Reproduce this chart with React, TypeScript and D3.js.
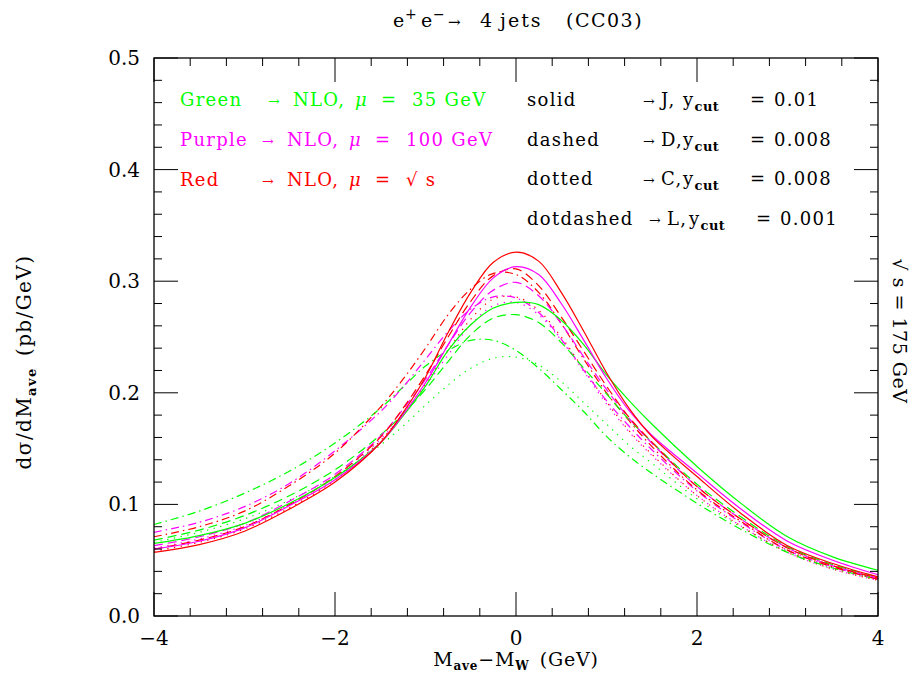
import React from "react";
import * as d3 from "d3";

// ---------- data ----------
const xGrid = [-4, -3.5, -3, -2.5, -2, -1.5, -1.25, -1, -0.75, -0.5, -0.25, 0, 0.25, 0.5, 0.75, 1, 1.25, 1.5, 2, 2.5, 3, 3.5, 4];

// solid: J, ycut = 0.01
const greenSolid = [0.065, 0.072, 0.083, 0.101, 0.124, 0.155, 0.179, 0.206, 0.238, 0.261, 0.276, 0.281, 0.279, 0.265, 0.243, 0.216, 0.193, 0.172, 0.134, 0.100, 0.071, 0.053, 0.041];
const purpleSolid = [0.060, 0.067, 0.079, 0.099, 0.122, 0.155, 0.180, 0.209, 0.243, 0.277, 0.303, 0.313, 0.306, 0.280, 0.247, 0.213, 0.184, 0.162, 0.128, 0.095, 0.067, 0.050, 0.037];
const redSolid = [0.057, 0.064, 0.076, 0.096, 0.120, 0.155, 0.182, 0.214, 0.254, 0.290, 0.317, 0.326, 0.318, 0.290, 0.255, 0.218, 0.186, 0.161, 0.125, 0.091, 0.063, 0.047, 0.035];

// dashed: D, ycut = 0.008
const greenDashed = [0.068, 0.077, 0.090, 0.108, 0.131, 0.162, 0.181, 0.203, 0.228, 0.252, 0.267, 0.270, 0.263, 0.245, 0.222, 0.199, 0.176, 0.156, 0.118, 0.088, 0.062, 0.046, 0.035];
const purpleDashed = [0.063, 0.071, 0.083, 0.103, 0.127, 0.161, 0.185, 0.212, 0.243, 0.272, 0.292, 0.299, 0.287, 0.262, 0.232, 0.203, 0.177, 0.155, 0.116, 0.086, 0.061, 0.045, 0.034];
const redDashed = [0.060, 0.068, 0.080, 0.100, 0.125, 0.160, 0.186, 0.216, 0.250, 0.282, 0.305, 0.311, 0.296, 0.268, 0.237, 0.206, 0.178, 0.156, 0.116, 0.086, 0.061, 0.045, 0.034];

// dotted: C, ycut = 0.008
const greenDotted = [0.066, 0.075, 0.087, 0.104, 0.125, 0.153, 0.170, 0.189, 0.207, 0.222, 0.231, 0.232, 0.225, 0.210, 0.191, 0.172, 0.153, 0.137, 0.105, 0.079, 0.058, 0.043, 0.033];
const purpleDotted = [0.061, 0.069, 0.081, 0.100, 0.124, 0.158, 0.181, 0.206, 0.234, 0.261, 0.278, 0.281, 0.270, 0.247, 0.219, 0.190, 0.165, 0.144, 0.108, 0.080, 0.057, 0.042, 0.032];
const redDotted = [0.058, 0.066, 0.078, 0.097, 0.122, 0.157, 0.181, 0.208, 0.238, 0.266, 0.284, 0.286, 0.274, 0.250, 0.221, 0.192, 0.166, 0.145, 0.108, 0.080, 0.057, 0.042, 0.032];

// dotdashed: L, ycut = 0.001
const greenDotDashed = [0.082, 0.094, 0.110, 0.130, 0.155, 0.186, 0.205, 0.224, 0.238, 0.247, 0.247, 0.238, 0.222, 0.203, 0.183, 0.161, 0.143, 0.128, 0.101, 0.077, 0.057, 0.043, 0.033];
const purpleDotDashed = [0.075, 0.084, 0.098, 0.119, 0.148, 0.183, 0.205, 0.230, 0.255, 0.275, 0.286, 0.285, 0.272, 0.248, 0.220, 0.193, 0.170, 0.149, 0.112, 0.083, 0.059, 0.044, 0.033];
const redDotDashed = [0.071, 0.080, 0.094, 0.117, 0.146, 0.187, 0.212, 0.240, 0.270, 0.293, 0.307, 0.306, 0.290, 0.262, 0.230, 0.200, 0.175, 0.152, 0.113, 0.084, 0.059, 0.044, 0.033];

const yTickLabels = ["0.0", "0.1", "0.2", "0.3", "0.4", "0.5"];
const xTickLabels = ["\u22124", "\u22122", "0", "2", "4"];

const GREEN = "#00ff00";
const PURPLE = "#ff00ff";
const RED = "#ff0000";

const series = [
  { values: greenDotted, color: GREEN, style: "dotted" },
  { values: purpleDotted, color: PURPLE, style: "dotted" },
  { values: redDotted, color: RED, style: "dotted" },
  { values: greenDotDashed, color: GREEN, style: "dotdashed" },
  { values: purpleDotDashed, color: PURPLE, style: "dotdashed" },
  { values: redDotDashed, color: RED, style: "dotdashed" },
  { values: greenDashed, color: GREEN, style: "dashed" },
  { values: purpleDashed, color: PURPLE, style: "dashed" },
  { values: redDashed, color: RED, style: "dashed" },
  { values: greenSolid, color: GREEN, style: "solid" },
  { values: purpleSolid, color: PURPLE, style: "solid" },
  { values: redSolid, color: RED, style: "solid" },
];

const dashFor: Record<string, string | undefined> = {
  solid: undefined,
  dashed: "9,5",
  dotted: "1.3,5.5",
  dotdashed: "8,4,1.5,4",
};

// ---------- layout ----------
const W = 912;
const H = 675;
const L = 154, R = 878, T = 58, B = 616;
const FONT = "'DejaVu Serif', serif";

export default function App() {
  const x = d3.scaleLinear().domain([-4, 4]).range([L, R]);
  const y = d3.scaleLinear().domain([0, 0.5]).range([B, T]);
  const line = d3
    .line<number>()
    .x((_, i) => x(xGrid[i]))
    .y((d) => y(d))
    .curve(d3.curveCatmullRom.alpha(0.5));

  const yMinor = d3.range(0, 0.5001, 0.02);
  const xMinor = d3.range(-4, 4.001, 0.4);
  const isMajorY = (v: number) => Math.abs(v * 10 - Math.round(v * 10)) < 1e-6;
  const isMajorX = (v: number) => Math.abs(v / 2 - Math.round(v / 2)) < 1e-6;

  const tickEls: React.ReactNode[] = [];
  yMinor.forEach((v, i) => {
    const len = isMajorY(v) ? 24 : 8;
    const yy = y(v);
    tickEls.push(<line key={"yl" + i} x1={L} x2={L + len} y1={yy} y2={yy} />);
    tickEls.push(<line key={"yr" + i} x1={R} x2={R - len} y1={yy} y2={yy} />);
  });
  xMinor.forEach((v, i) => {
    const len = isMajorX(v) ? 24 : 8;
    const xx = x(v);
    tickEls.push(<line key={"xb" + i} x1={xx} x2={xx} y1={B} y2={B - len} />);
    tickEls.push(<line key={"xt" + i} x1={xx} x2={xx} y1={T} y2={T + len} />);
  });

  const yTickVals = d3.range(0, 0.5001, 0.1);
  const xTickVals = d3.range(-4, 4.001, 2);

  const legFont = { fontFamily: FONT, fontSize: 18, letterSpacing: 1.3 } as const;

  const leftRows = [
    { name: "Green", arrowX: 268, value: "35 GeV", color: GREEN },
    { name: "Purple", arrowX: 262, value: "100 GeV", color: PURPLE },
    { name: "Red", arrowX: 262, value: "\u221A s", color: RED },
  ];
  const rightRows = [
    { name: "solid", arrowX: 643, code: "J,", val: "0.01" },
    { name: "dashed", arrowX: 643, code: "D,", val: "0.008" },
    { name: "dotted", arrowX: 643, code: "C,", val: "0.008" },
    { name: "dotdashed", arrowX: 649, code: "L,", val: "0.001" },
  ];

  return (
    <svg
      width={W}
      height={H}
      style={{ position: "absolute", left: 0, top: 0, background: "#fff" }}
      xmlns="http://www.w3.org/2000/svg"
    >
      <rect x={0} y={0} width={W} height={H} fill="#fff" />

      {/* curves */}
      <g fill="none" strokeWidth={1.2}>
        {series.map((s, i) => (
          <path
            key={i}
            d={line(s.values) || ""}
            stroke={s.color}
            strokeDasharray={dashFor[s.style]}
          />
        ))}
      </g>

      {/* frame and ticks */}
      <g stroke="#000" strokeWidth={1}>
        {tickEls}
      </g>
      <rect x={L} y={T} width={R - L} height={B - T} fill="none" stroke="#000" strokeWidth={1.3} />

      {/* tick labels */}
      <g fontFamily={FONT} fontSize={20} fill="#000">
        {yTickVals.map((v, i) => (
          <text key={"yt" + i} x={140} y={y(v) + 7} textAnchor="end">
            {yTickLabels[i]}
          </text>
        ))}
        {xTickVals.map((v, i) => (
          <text key={"xt" + i} x={x(v)} y={645} textAnchor="middle">
            {xTickLabels[i]}
          </text>
        ))}
      </g>

      {/* title */}
      <text fontFamily={FONT} fontSize={19} y={27} fill="#000">
        <tspan x={393}>e</tspan>
        <tspan x={405} dy={-8} fontSize={14}>+</tspan>
        <tspan x={421} dy={8}>e</tspan>
        <tspan x={433} dy={-8} fontSize={14}>{"\u2212"}</tspan>
        <tspan x={448} dy={8} fontSize={15}>{"\u2192"}</tspan>
        <tspan x={480}>4</tspan>
        <tspan x={500} letterSpacing={2}>jets</tspan>
        <tspan x={566} letterSpacing={1.5}>(CC03)</tspan>
      </text>

      {/* left legend */}
      {leftRows.map((r, i) => {
        const by = 106 + i * 40;
        return (
          <text key={"ll" + i} y={by} fill={r.color} style={legFont}>
            <tspan x={180}>{r.name}</tspan>
            <tspan x={r.arrowX} fontSize={14}>{"\u2192"}</tspan>
            <tspan x={r.arrowX + 25}>NLO,</tspan>
            <tspan x={r.arrowX + 87} fontStyle="italic">{"\u03BC"}</tspan>
            <tspan x={r.arrowX + 113}>=</tspan>
            <tspan x={r.arrowX + 144}>{r.value}</tspan>
          </text>
        );
      })}

      {/* right legend */}
      {rightRows.map((r, i) => {
        const by = 106 + i * 39.5;
        return (
          <text key={"rl" + i} y={by} fill="#000" style={legFont}>
            <tspan x={527}>{r.name}</tspan>
            <tspan x={r.arrowX} fontSize={14}>{"\u2192"}</tspan>
            <tspan x={r.arrowX + 18}>{r.code}</tspan>
            <tspan x={r.arrowX + 40}>y</tspan>
            <tspan dy={5} fontSize={13} fontWeight="bold" letterSpacing={0.5}>cut</tspan>
            <tspan x={r.arrowX + 107} dy={-5}>=</tspan>
            <tspan x={r.arrowX + 131}>{r.val}</tspan>
          </text>
        );
      })}

      {/* y axis label */}
      <text
        transform="translate(31,362) rotate(-90)"
        textAnchor="middle"
        fontFamily={FONT}
        fontSize={20}
        fill="#000"
        letterSpacing={1.4}
      >
        <tspan>d{"\u03C3"}/dM</tspan>
        <tspan dy={5} fontSize={13} fontWeight="bold">ave</tspan>
        <tspan dy={-5}>{"\u2002"}(pb/GeV)</tspan>
      </text>

      {/* right label */}
      <text
        transform="translate(893,331) rotate(90)"
        textAnchor="middle"
        fontFamily={FONT}
        fontSize={19}
        fill="#000"
        letterSpacing={0.5}
      >
        {"\u221A s = 175 GeV"}
      </text>

      {/* x axis label */}
      <text x={516} y={666} textAnchor="middle" fontFamily={FONT} fontSize={19} fill="#000" letterSpacing={0.8}>
        <tspan>M</tspan>
        <tspan dy={4} fontSize={12} fontWeight="bold">ave</tspan>
        <tspan dy={-4}>{"\u2212"}M</tspan>
        <tspan dy={4} fontSize={12} fontWeight="bold">W</tspan>
        <tspan dy={-4}>{"\u2002"}(GeV)</tspan>
      </text>
    </svg>
  );
}
